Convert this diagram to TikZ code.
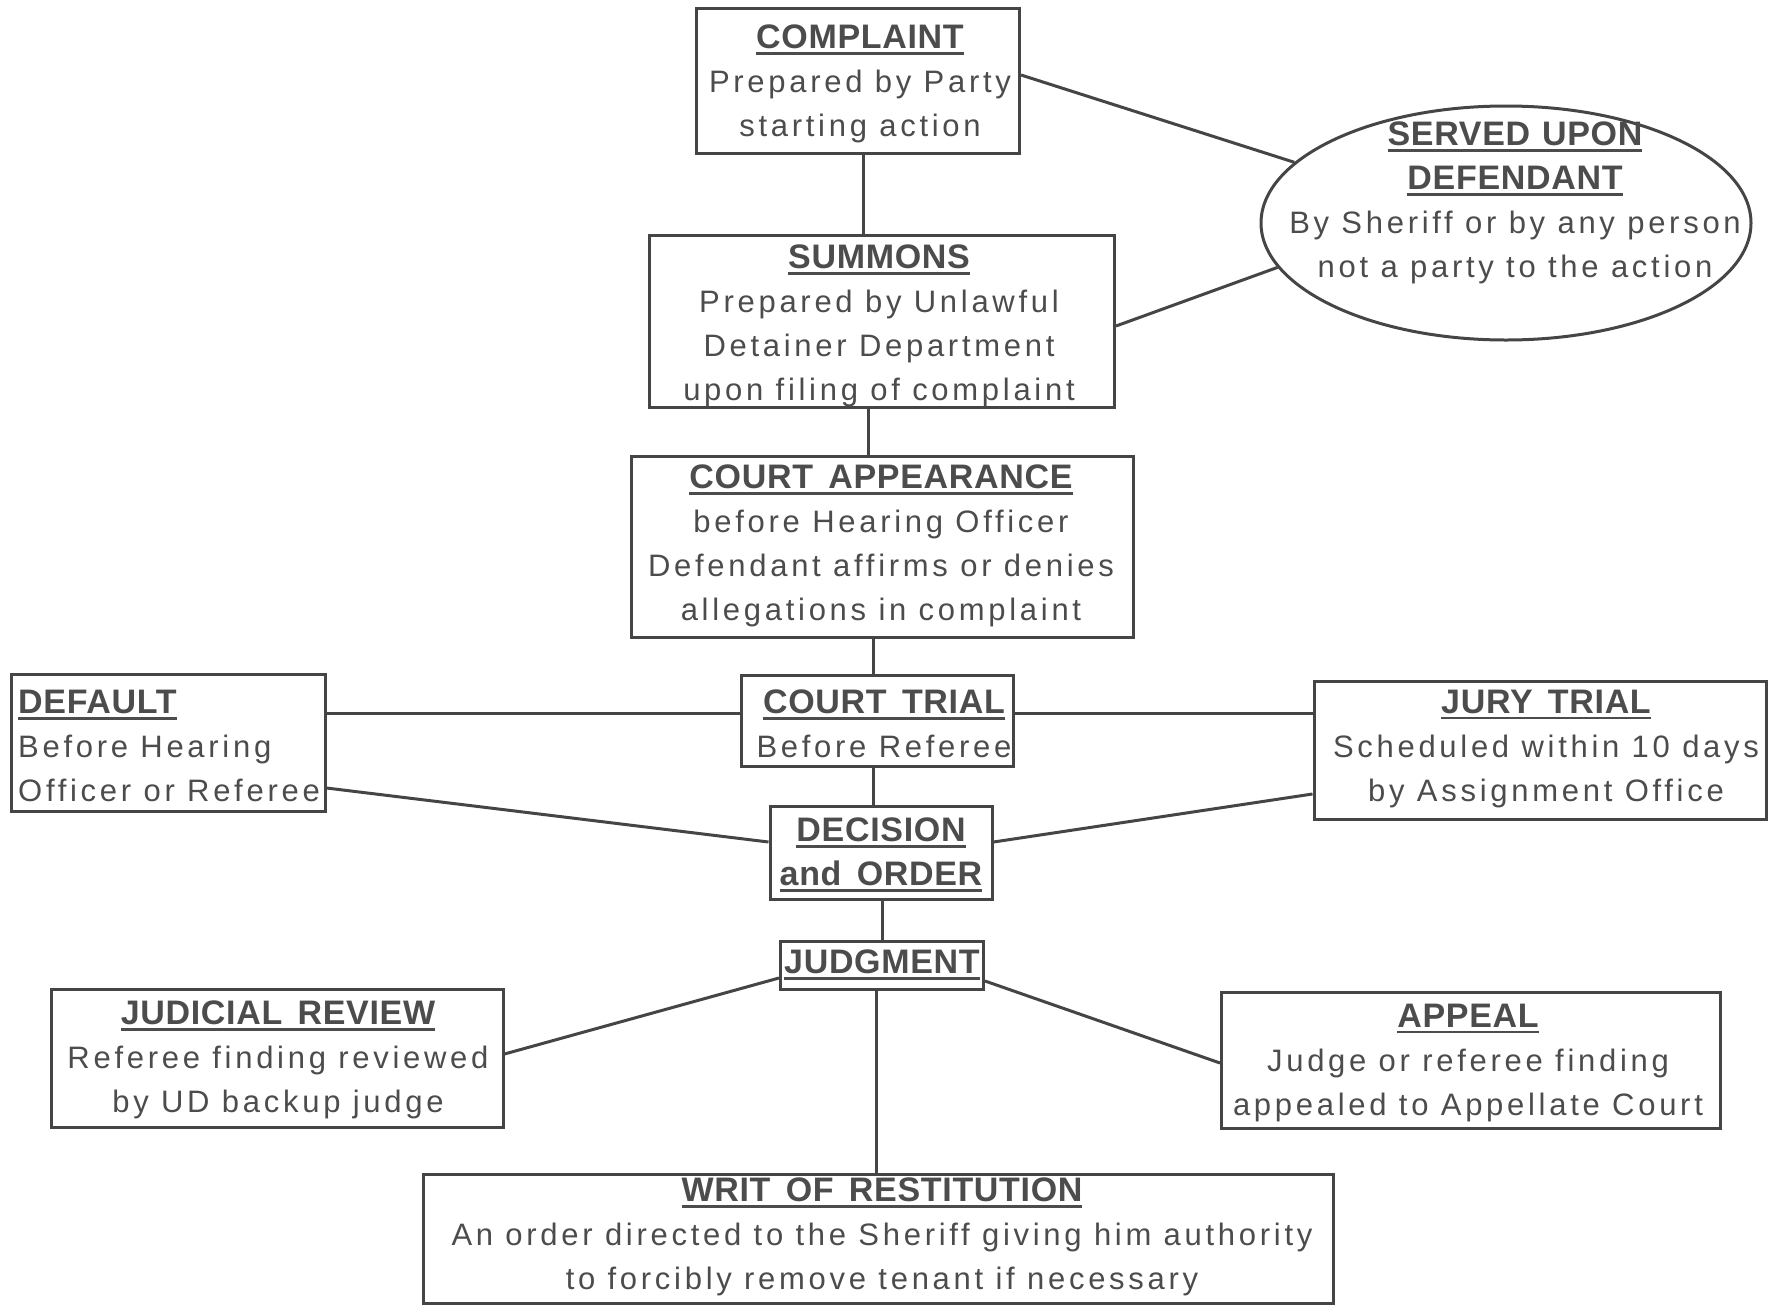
\documentclass[tikz,border=0pt]{standalone}
\usepackage{fontspec}
\setmainfont{Liberation Sans}
\newfontfamily\bodyf{Liberation Sans}[LetterSpace=12]
\newfontfamily\titlef{Liberation Sans}[LetterSpace=2]
\usetikzlibrary{shapes.geometric}
\definecolor{ink}{HTML}{454545}
\definecolor{txt}{HTML}{4C4C4C}
\newcommand\hd[1]{{\fontsize{34}{44}\titlef\bfseries\setbox0=\hbox{#1}\rlap{\usebox0}\rule[-6pt]{\wd0}{2.8pt}}}
\newcommand\gap{\hspace{0.45em}}
\tikzset{
  box/.style={draw=ink, line width=3pt, rectangle, inner sep=0pt},
  oval/.style={draw=ink, line width=3pt, ellipse, inner sep=0pt},
  lbl/.style={text=txt, align=center, inner sep=0pt, font=\fontsize{31}{44}\bodyf},
  conn/.style={draw=ink, line width=3pt}
}
\begin{document}
\begin{tikzpicture}[x=1pt,y=-1pt]
\useasboundingbox (0,0) rectangle (1773,1307);
% boxes
\node[box, minimum width=323, minimum height=145] (complaint) at (858,81) {};
\node[box, minimum width=465, minimum height=172] (summons) at (882,321) {};
\node[oval, minimum width=490, minimum height=234] (serve) at (1506,223) {};
\node[box, minimum width=502, minimum height=181] (appear) at (882,547) {};
\node[box, minimum width=314, minimum height=137] (default) at (168,743) {};
\node[box, minimum width=272, minimum height=91] (ctrial) at (877,721) {};
\node[box, minimum width=452, minimum height=138] (jury) at (1540,750) {};
\node[box, minimum width=222, minimum height=93] (decision) at (881,853) {};
\node[box, minimum width=203, minimum height=48] (judgment) at (882,965) {};
\node[box, minimum width=452, minimum height=138] (review) at (277,1058) {};
\node[box, minimum width=499, minimum height=136] (appeal) at (1471,1060) {};
\node[box, minimum width=910, minimum height=129] (writ) at (878,1239) {};
% labels
\node[lbl] (complaint-t) at (860,84) {\hd{COMPLAINT}\\Prepared by Party\\starting action};
\node[lbl] (summons-t) at (879,326) {\hd{SUMMONS}\\Prepared by Unlawful\\Detainer Department\\upon filing of complaint};
\node[lbl] (serve-t) at (1515,203) {\hd{SERVED\hspace{0.35em}UPON}\\\hd{DEFENDANT}\\By Sheriff or by any person\\not a party to the action};
\node[lbl] (appear-t) at (881,546) {\hd{COURT\gap APPEARANCE}\\before Hearing Officer\\Defendant affirms or denies\\allegations in complaint};
\node[lbl, align=left, anchor=west] (default-t) at (18,746) {\hd{DEFAULT}\\Before Hearing\\Officer or Referee};
\node[lbl] (ctrial-t) at (884,724) {\hd{COURT\gap TRIAL}\\Before Referee};
\node[lbl] (jury-t) at (1546,749) {\hd{JURY\gap TRIAL}\\Scheduled within 10 days\\by Assignment Office};
\node[lbl] (decision-t) at (881,855) {\hd{DECISION}\\\hd{and\gap ORDER}};
\node[lbl] (judgment-t) at (882,965) {\hd{JUDGMENT}};
\node[lbl] (review-t) at (278,1060) {\hd{JUDICIAL\gap REVIEW}\\Referee finding reviewed\\by UD backup judge};
\node[lbl] (appeal-t) at (1468,1063) {\hd{APPEAL}\\Judge or referee finding\\appealed to Appellate Court};
\node[lbl] (writ-t) at (882,1237) {\hd{WRIT\gap OF\gap RESTITUTION}\\An order directed to the Sheriff giving him authority\\to forcibly remove tenant if necessary};
% connectors
\draw[conn] ([xshift=5]complaint.south) -- ([xshift=-19]summons.north);
\draw[conn] ([yshift=6]complaint.east) -- (serve.164);
\draw[conn] ([yshift=-5]summons.east) -- (serve.191);
\draw[conn] ([xshift=-14]summons.south) -- ([xshift=-14]appear.north);
\draw[conn] ([xshift=-9]appear.south) -- ([xshift=-4]ctrial.north);
\draw[conn] ([yshift=30]default.east) -- ([yshift=8]ctrial.west);
\draw[conn] ([yshift=8]ctrial.east) -- ([yshift=37]jury.west);
\draw[conn] ([yshift=-45]default.east) -- ([yshift=11]decision.west);
\draw[conn] ([yshift=-44]jury.west) -- ([yshift=11]decision.east);
\draw[conn] ([xshift=-4]ctrial.south) -- ([xshift=-8]decision.north);
\draw[conn] ([xshift=1]decision.south) -- (judgment.north);
\draw[conn] ([yshift=-13]judgment.west) -- ([yshift=4]review.east);
\draw[conn] ([yshift=-16]judgment.east) -- ([yshift=-3]appeal.west);
\draw[conn] ([xshift=-6]judgment.south) -- ([xshift=-2]writ.north);
\end{tikzpicture}
\end{document}
